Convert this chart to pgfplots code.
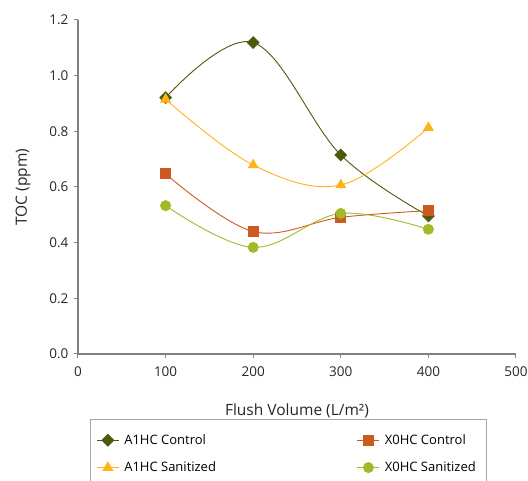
\documentclass[border=0pt]{standalone}
\usepackage{pgfplots}
\pgfplotsset{compat=1.18}
\usepackage{fontspec}
\setmainfont{Open Sans}
\definecolor{olivec}{HTML}{4B5A0B}
\definecolor{amberc}{HTML}{FFB31A}
\definecolor{rustc}{HTML}{CC5A1E}
\definecolor{limec}{HTML}{A5B82A}
\definecolor{axgray}{HTML}{808080}
\begin{document}
\begin{tikzpicture}
\useasboundingbox (0,0) rectangle (528pt,481pt);
\begin{axis}[
  at={(78pt,127pt)}, anchor=south west,
  scale only axis, width=438pt, height=334pt,
  xmin=0, xmax=500, ymin=0, ymax=1.2,
  xtick={0,100,...,500}, ytick={0,0.2,...,1.2},
  axis lines*=left,
  axis line style={axgray, line width=1.3pt},
  tick style={axgray, line width=1pt},
  tick align=outside, major tick length=4pt,
  /pgf/number format/assume math mode=true,
  ticklabel style={font=\fontsize{13.5}{15}\selectfont, color=black!85},
  xticklabel style={yshift=-5pt},
  yticklabel style={xshift=-2pt, /pgf/number format/.cd, fixed, fixed zerofill, precision=1},
  xlabel={Flush Volume (L/m²)},
  ylabel={TOC (ppm)},
  label style={font=\fontsize{15.5}{17}\selectfont, color=black!85},
  xlabel style={yshift=-20pt},
  ylabel style={yshift=12pt},
  legend columns=2,
  legend cell align=left,
  legend image code/.code={
    \draw[#1, mark=none] (0pt,0pt) -- (22pt,0pt);
    \draw[#1, only marks] plot coordinates {(11pt,0pt)};
  },
  legend style={
    at={(0.0274,-0.195)}, anchor=north west,
    draw=black!35, line width=0.8pt,
    font=\fontsize{13}{15}\selectfont,
    inner xsep=6pt, inner ysep=13pt,
    row sep=12pt,
    nodes={inner xsep=5pt},
    /tikz/column 2/.style={column sep=136pt},
    /tikz/column 4/.style={column sep=10pt},
  },
  every axis plot/.append style={line width=0.9pt, smooth, tension=0.6},
]
% diamonds drawn as squares turned by 45 degrees
\addplot[olivec, mark=square*, mark size=4.1pt, mark options={fill=olivec, rotate=45}]
  coordinates {(100,0.921) (200,1.119) (300,0.715) (400,0.496)};
\addlegendentry{A1HC Control}
\addplot[rustc, mark=square*, mark size=5pt, mark options={fill=rustc}]
  coordinates {(100,0.647) (200,0.440) (300,0.491) (400,0.515)};
\addlegendentry{X0HC Control}
\addplot[amberc, mark=triangle*, mark size=5.5pt, mark options={fill=amberc}]
  coordinates {(100,0.915) (200,0.679) (300,0.607) (400,0.813)};
\addlegendentry{A1HC Sanitized}
\addplot[limec, mark=*, mark size=5pt, mark options={fill=limec}]
  coordinates {(100,0.533) (200,0.383) (300,0.505) (400,0.448)};
\addlegendentry{X0HC Sanitized}
\end{axis}
\end{tikzpicture}
\end{document}
